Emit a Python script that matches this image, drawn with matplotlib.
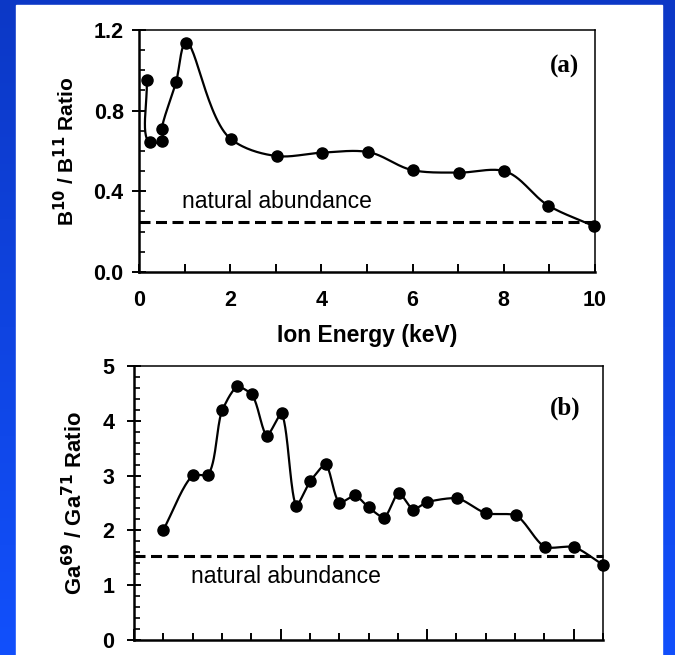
#!/usr/bin/env python3

# Isotope ratio vs ion energy, boron (a) and gallium (b)

import numpy as np
import matplotlib
matplotlib.use("Agg")
import matplotlib.pyplot as plt
from matplotlib.patches import Rectangle
from matplotlib.ticker import MultipleLocator

# (a) boron
b_energy = [0.17, 0.24, 0.51, 0.50, 0.81, 1.04, 2.02, 3.02, 4.02, 5.02, 6.0, 7.02, 8.0, 8.98, 9.98]
b_ratio = [0.952, 0.644, 0.648, 0.710, 0.940, 1.138, 0.658, 0.575, 0.592, 0.595, 0.505, 0.493, 0.501, 0.329, 0.227]
b_natural = 0.25

# (b) gallium
ga_energy = [1.0, 2.01, 2.53, 3.0, 3.53, 4.03, 4.53, 5.04, 5.53, 6.01, 6.54, 7.01, 7.54, 8.0,
             8.53, 9.03, 9.53, 10.01, 11.03, 12.01, 13.03, 14.03, 15.01, 16.0]
ga_ratio = [2.01, 3.01, 3.01, 4.19, 4.63, 4.48, 3.72, 4.14, 2.44, 2.90, 3.21, 2.50, 2.64, 2.42,
            2.23, 2.69, 2.38, 2.52, 2.59, 2.31, 2.28, 1.69, 1.70, 1.37]
ga_natural = 1.53

FONT = ["Liberation Sans", "DejaVu Sans"]
plt.rcParams["font.family"] = FONT


def smooth(x, y, xspan, yspan, n=30, alpha=1.0):
    # centripetal Catmull-Rom through the points, in axis-normalised space;
    # alpha < 1 pulls the curve back towards straight segments
    px = np.asarray(x, float) / xspan
    py = np.asarray(y, float) / yspan
    pts = np.column_stack([px, py])
    pts = np.vstack([2 * pts[0] - pts[1], pts, 2 * pts[-1] - pts[-2]])
    out = []
    for i in range(1, len(pts) - 2):
        p0, p1, p2, p3 = pts[i - 1], pts[i], pts[i + 1], pts[i + 2]
        t0 = 0.0
        t1 = t0 + max(np.linalg.norm(p1 - p0), 1e-6) ** 0.5
        t2 = t1 + max(np.linalg.norm(p2 - p1), 1e-6) ** 0.5
        t3 = t2 + max(np.linalg.norm(p3 - p2), 1e-6) ** 0.5
        t = np.linspace(t1, t2, n)[:, None]
        a1 = (t1 - t) / (t1 - t0) * p0 + (t - t0) / (t1 - t0) * p1
        a2 = (t2 - t) / (t2 - t1) * p1 + (t - t1) / (t2 - t1) * p2
        a3 = (t3 - t) / (t3 - t2) * p2 + (t - t2) / (t3 - t2) * p3
        b1 = (t2 - t) / (t2 - t0) * a1 + (t - t0) / (t2 - t0) * a2
        b2 = (t3 - t) / (t3 - t1) * a2 + (t - t1) / (t3 - t1) * a3
        c = (t2 - t) / (t2 - t1) * b1 + (t - t1) / (t2 - t1) * b2
        s = np.linspace(0, 1, n)[:, None]
        lin = p1 + s * (p2 - p1)
        out.append(alpha * c + (1 - alpha) * lin)
    c = np.vstack(out)
    return c[:, 0] * xspan, c[:, 1] * yspan


def style(ax):
    for side in ("left", "bottom"):
        ax.spines[side].set_linewidth(1.8)
    for side in ("top", "right"):
        ax.spines[side].set_linewidth(1.1)
    ax.tick_params(which="major", axis="y", direction="inout", length=10, width=1.4, pad=6)
    ax.tick_params(which="minor", axis="y", direction="in", length=4, width=1.2)
    ax.tick_params(which="both", axis="x", direction="in", width=1.4)
    ax.tick_params(labelsize=15.5)
    for lab in ax.get_xticklabels() + ax.get_yticklabels():
        lab.set_fontweight("bold")


fig = plt.figure(figsize=(6.75, 6.55), dpi=100)

# blue backdrop with a white page on top
bg = fig.add_axes([0, 0, 1, 1], zorder=-10)
grad = np.linspace(0, 1, 256)[:, None]
cmap = matplotlib.colors.LinearSegmentedColormap.from_list("bg", ["#0c38c6", "#1250fc"])
bg.imshow(grad, aspect="auto", cmap=cmap, extent=[0, 1, 0, 1], origin="upper")
bg.add_patch(Rectangle((16 / 675, 0), (662 - 16) / 675, 1 - 5 / 655, color="white"))
bg.set_xlim(0, 1)
bg.set_ylim(0, 1)
bg.axis("off")

# --- panel (a)
ax1 = fig.add_axes([139 / 675, 1 - 272 / 655, 456 / 675, 242 / 655])
ax1.set_xlim(0, 10)
ax1.set_ylim(0, 1.2)
sx, sy = smooth(b_energy, b_ratio, 10, 1.2)
ax1.plot(sx, sy, color="black", lw=1.6, clip_on=False)
ax1.plot(b_energy, b_ratio, "o", color="black", ms=8, clip_on=False)
ax1.plot([0, 10.1], [b_natural, b_natural], color="black", lw=2.2, dashes=(3.6, 1.8), clip_on=False)
ax1.text(0.95, 0.35, "natural abundance", fontsize=16.5, va="center")
ax1.text(9.0, 1.02, "(a)", fontsize=18, fontweight="bold", family="Liberation Serif", va="center")
ax1.xaxis.set_major_locator(MultipleLocator(2))
ax1.xaxis.set_minor_locator(MultipleLocator(1))
ax1.set_yticks([0.0, 0.4, 0.8, 1.2], ["0.0", "0.4", "0.8", "1.2"])
ax1.yaxis.set_minor_locator(MultipleLocator(0.1))
ax1.tick_params(which="both", axis="x", length=6, pad=13)
style(ax1)
ax1.set_ylabel("B$^{\\mathbf{10}}$ / B$^{\\mathbf{11}}$ Ratio", fontsize=15, fontweight="bold", labelpad=11)
ax1.set_xlabel("Ion Energy (keV)", fontsize=16.5, fontweight="bold", labelpad=9)

# --- panel (b)
ax2 = fig.add_axes([134 / 675, 1 - 640 / 655, 469 / 675, 274 / 655])
ax2.set_xlim(0, 16)
ax2.set_ylim(0, 5)
sx, sy = smooth(ga_energy, ga_ratio, 16, 5, alpha=0.55)
ax2.plot(sx, sy, color="black", lw=1.6, clip_on=False)
ax2.plot(ga_energy, ga_ratio, "o", color="black", ms=8, clip_on=False)
ax2.plot([0, 16], [ga_natural, ga_natural], color="black", lw=2.2, dashes=(3.6, 1.8), clip_on=False)
ax2.text(1.95, 1.15, "natural abundance", fontsize=16.5, va="center")
ax2.text(14.2, 4.22, "(b)", fontsize=18, fontweight="bold", family="Liberation Serif", va="center")
ax2.xaxis.set_major_locator(MultipleLocator(5))
ax2.xaxis.set_minor_locator(MultipleLocator(1))
ax2.yaxis.set_major_locator(MultipleLocator(1))
ax2.yaxis.set_minor_locator(MultipleLocator(0.2))
ax2.tick_params(which="major", axis="x", length=8)
ax2.tick_params(which="minor", axis="x", length=5)
ax2.tick_params(axis="x", labelbottom=False)
style(ax2)
ax2.tick_params(axis="y", pad=9)
ax2.set_ylabel("Ga$^{\\mathbf{69}}$ / Ga$^{\\mathbf{71}}$ Ratio", fontsize=15.8, fontweight="bold", labelpad=11)

fig.savefig("out.png", dpi=100)
